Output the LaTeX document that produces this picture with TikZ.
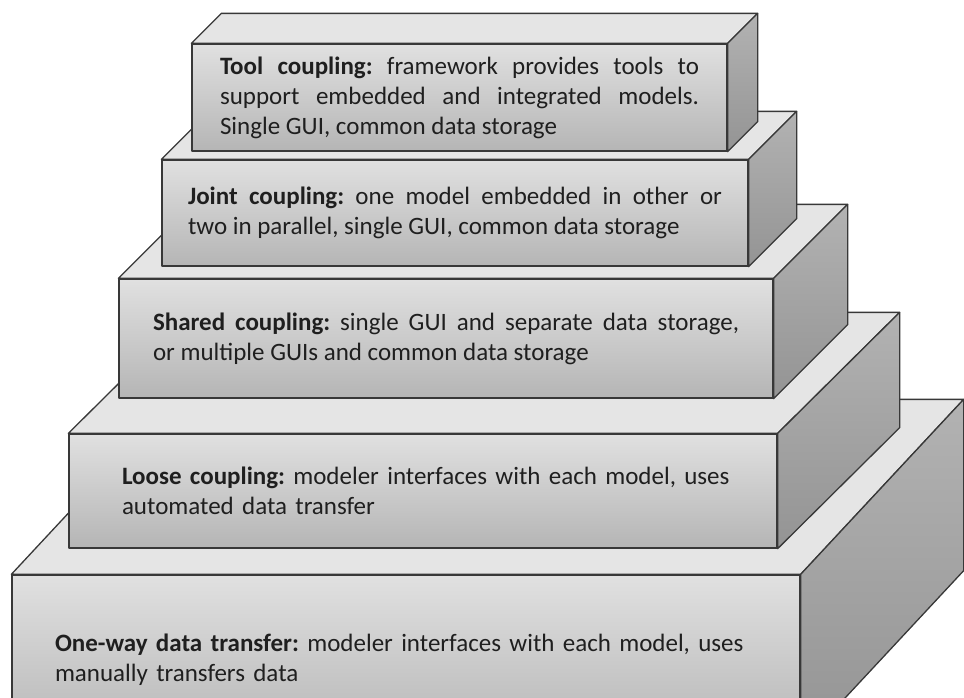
\documentclass[tikz,border=0pt]{standalone}
\usepackage{fontspec}
\setmainfont{Carlito}
\frenchspacing

\begin{document}
\begin{tikzpicture}[x=1pt,y=-1pt,line join=round,
  face/.style={draw=black!78,line width=1.3pt,top color=black!12,bottom color=black!29,
    inner sep=0pt,font=\fontsize{25}{30}\selectfont\frenchspacing,text=black!88},
  lid/.style={draw=black!78,line width=1.3pt,fill=black!10},
  flank/.style={draw=black!78,line width=1.3pt,top color=black!30,bottom color=black!42}]
\useasboundingbox (0,0) rectangle (964,697);
\node[face,minimum width=788,minimum height=170,text width=702,align=left] (oneway) at (406,660)
  {\mbox{\textbf{One-way data transfer:} modeler interfaces with each model, uses}\\ manually transfers data};
\filldraw[lid] (oneway.north west) -- ++(163,-175) -- ([shift={(163,-175)}]oneway.north east) -- (oneway.north east) -- cycle;
\filldraw[flank] (oneway.north east) -- ++(163,-175) -- ([shift={(163,-175)}]oneway.south east) -- (oneway.south east) -- cycle;
\node[face,minimum width=708,minimum height=114,text width=602,align=left] (loose) at (423,491)
  {\mbox{\textbf{Loose coupling:} modeler interfaces with each model, uses}\\ automated data transfer};
\filldraw[lid] (loose.north west) -- ++(122,-121) -- ([shift={(122,-121)}]loose.north east) -- (loose.north east) -- cycle;
\filldraw[flank] (loose.north east) -- ++(122,-121) -- ([shift={(122,-121)}]loose.south east) -- (loose.south east) -- cycle;
\node[face,minimum width=654,minimum height=119,text width=586,align=justify] (shared) at (446,338.5)
  {\textbf{Shared coupling:} single GUI and separate data storage,\linebreak or multiple GUIs and common data storage};
\filldraw[lid] (shared.north west) -- ++(74,-74) -- ([shift={(74,-74)}]shared.north east) -- (shared.north east) -- cycle;
\filldraw[flank] (shared.north east) -- ++(74,-74) -- ([shift={(74,-74)}]shared.south east) -- (shared.south east) -- cycle;
\node[face,minimum width=586,minimum height=106,text width=534,align=justify] (joint) at (455,213)
  {\textbf{Joint coupling:} one model embedded in other or\linebreak two in parallel, single GUI, common data storage};
\filldraw[lid] (joint.north west) -- ++(48,-48) -- ([shift={(48,-48)}]joint.north east) -- (joint.north east) -- cycle;
\filldraw[flank] (joint.north east) -- ++(48,-48) -- ([shift={(48,-48)}]joint.south east) -- (joint.south east) -- cycle;
\node[face,minimum width=535,minimum height=107,text width=479,align=justify] (tool) at (459.5,97.5)
  {\textbf{Tool coupling:} framework provides tools to\linebreak support embedded and integrated models.\linebreak Single GUI, common data storage};
\filldraw[lid] (tool.north west) -- ++(30,-30) -- ([shift={(30,-30)}]tool.north east) -- (tool.north east) -- cycle;
\filldraw[flank] (tool.north east) -- ++(30,-30) -- ([shift={(30,-30)}]tool.south east) -- (tool.south east) -- cycle;
\end{tikzpicture}
\end{document}
